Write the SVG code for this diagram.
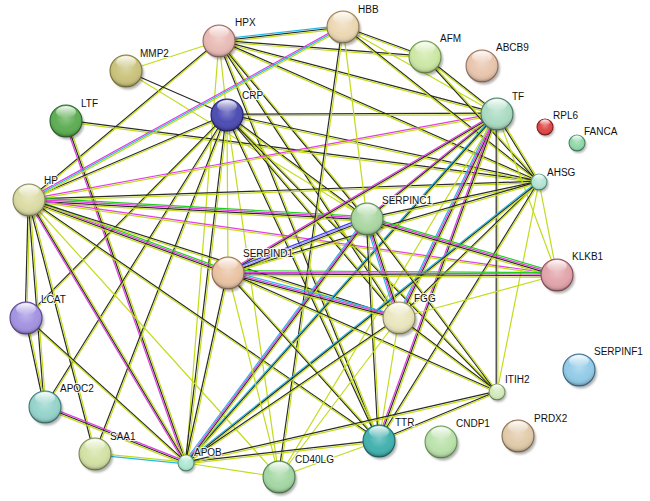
<svg xmlns="http://www.w3.org/2000/svg" width="650" height="501" viewBox="0 0 650 501">
<style>
#edges line{stroke-width:1.2;fill:none}
.y{stroke:#c3db1b}.k{stroke:#2a2a2a}.m{stroke:#e23ee2}.c{stroke:#27b8e6}.g{stroke:#1fcf1f}.b{stroke:#3b3bf5}.l{stroke:#9d9dff}
.sh{fill:#000;opacity:.3;filter:url(#blur)}
.od{fill:url(#shade)}
.hl{fill:url(#hlg)}
.n{stroke-width:1.1}
text{font-family:"Liberation Sans",Arial,sans-serif;font-size:10px;fill:#111;stroke:#fff;stroke-width:2.2px;stroke-opacity:.85;paint-order:stroke;stroke-linejoin:round}
</style>
<defs>
<filter id="blur" x="-50%" y="-50%" width="200%" height="200%"><feGaussianBlur stdDeviation="1.3"/></filter>
<radialGradient id="shade" cx="50%" cy="40%" r="60%"><stop offset="0" stop-color="#fff" stop-opacity=".3"/><stop offset=".55" stop-color="#fff" stop-opacity="0"/><stop offset=".85" stop-color="#000" stop-opacity=".08"/><stop offset="1" stop-color="#000" stop-opacity=".38"/></radialGradient>
<linearGradient id="hlg" x1="0" y1="0" x2="0" y2="1"><stop offset="0" stop-color="#fff" stop-opacity=".95"/><stop offset="1" stop-color="#fff" stop-opacity="0"/></linearGradient>
</defs>
<rect width="650" height="501" fill="#fff"/>
<g id="edges">
<line class="y" x1="219" y1="41" x2="126" y2="71"/>
<line class="c" x1="219" y1="39.4" x2="343" y2="25.4"/><line class="k" x1="219" y1="41" x2="343" y2="27"/><line class="y" x1="219" y1="42.6" x2="343" y2="28.6"/>
<line class="k" x1="219" y1="40.2" x2="425" y2="56.2"/><line class="y" x1="219" y1="41.8" x2="425" y2="57.8"/>
<line class="k" x1="219" y1="40.2" x2="497" y2="113.2"/><line class="y" x1="219" y1="41.8" x2="497" y2="114.8"/>
<line class="k" x1="219" y1="40.2" x2="539" y2="181.2"/><line class="y" x1="219" y1="41.8" x2="539" y2="182.8"/>
<line class="k" x1="219" y1="40.2" x2="29" y2="199.2"/><line class="y" x1="219" y1="41.8" x2="29" y2="200.8"/>
<line class="k" x1="218.2" y1="41" x2="366.2" y2="219"/><line class="y" x1="219.8" y1="41" x2="367.8" y2="219"/>
<line class="k" x1="218.2" y1="41" x2="398.2" y2="318"/><line class="y" x1="219.8" y1="41" x2="399.8" y2="318"/>
<line class="k" x1="218.2" y1="41" x2="378.2" y2="441"/><line class="y" x1="219.8" y1="41" x2="379.8" y2="441"/>
<line class="y" x1="219" y1="41" x2="186" y2="463"/>
<line class="y" x1="219" y1="41" x2="227" y2="115"/>
<line class="k" x1="126" y1="71" x2="227" y2="115"/>
<line class="y" x1="126" y1="71" x2="367" y2="219"/>
<line class="k" x1="66" y1="120.2" x2="539" y2="181.2"/><line class="y" x1="66" y1="121.8" x2="539" y2="182.8"/>
<line class="m" x1="64.4" y1="121" x2="184.4" y2="463"/><line class="k" x1="66" y1="121" x2="186" y2="463"/><line class="y" x1="67.6" y1="121" x2="187.6" y2="463"/>
<line class="k" x1="227" y1="114.2" x2="497" y2="113.2"/><line class="y" x1="227" y1="115.8" x2="497" y2="114.8"/>
<line class="k" x1="227" y1="114.2" x2="539" y2="181.2"/><line class="y" x1="227" y1="115.8" x2="539" y2="182.8"/>
<line class="k" x1="227" y1="114.2" x2="29" y2="199.2"/><line class="y" x1="227" y1="115.8" x2="29" y2="200.8"/>
<line class="k" x1="227" y1="114.2" x2="367" y2="218.2"/><line class="y" x1="227" y1="115.8" x2="367" y2="219.8"/>
<line class="k" x1="226.2" y1="115" x2="398.2" y2="318"/><line class="y" x1="227.8" y1="115" x2="399.8" y2="318"/>
<line class="k" x1="226.2" y1="115" x2="378.2" y2="441"/><line class="y" x1="227.8" y1="115" x2="379.8" y2="441"/>
<line class="k" x1="226.2" y1="115" x2="185.2" y2="463"/><line class="y" x1="227.8" y1="115" x2="186.8" y2="463"/>
<line class="k" x1="226.2" y1="115" x2="94.2" y2="454"/><line class="y" x1="227.8" y1="115" x2="95.8" y2="454"/>
<line class="k" x1="226.2" y1="115" x2="44.2" y2="407"/><line class="y" x1="227.8" y1="115" x2="45.8" y2="407"/>
<line class="k" x1="226.2" y1="115" x2="25.2" y2="318"/><line class="y" x1="227.8" y1="115" x2="26.8" y2="318"/>
<line class="y" x1="227" y1="115" x2="279" y2="477"/>
<line class="y" x1="227" y1="115" x2="228" y2="273"/>
<line class="k" x1="226.2" y1="115" x2="496.2" y2="392"/><line class="y" x1="227.8" y1="115" x2="497.8" y2="392"/>
<line class="m" x1="29" y1="198.4" x2="343" y2="25.4"/><line class="c" x1="29" y1="200" x2="343" y2="27"/><line class="y" x1="29" y1="201.6" x2="343" y2="28.6"/>
<line class="m" x1="29" y1="199.2" x2="497" y2="113.2"/><line class="y" x1="29" y1="200.8" x2="497" y2="114.8"/>
<line class="k" x1="29" y1="199.2" x2="539" y2="181.2"/><line class="y" x1="29" y1="200.8" x2="539" y2="182.8"/>
<line class="g" x1="29" y1="197.6" x2="367" y2="216.6"/><line class="m" x1="29" y1="199.2" x2="367" y2="218.2"/><line class="k" x1="29" y1="200.8" x2="367" y2="219.8"/><line class="y" x1="29" y1="202.4" x2="367" y2="221.4"/>
<line class="g" x1="29" y1="197.6" x2="228" y2="270.6"/><line class="m" x1="29" y1="199.2" x2="228" y2="272.2"/><line class="k" x1="29" y1="200.8" x2="228" y2="273.8"/><line class="y" x1="29" y1="202.4" x2="228" y2="275.4"/>
<line class="m" x1="29" y1="199.2" x2="557" y2="274.2"/><line class="y" x1="29" y1="200.8" x2="557" y2="275.8"/>
<line class="k" x1="29" y1="199.2" x2="399" y2="317.2"/><line class="y" x1="29" y1="200.8" x2="399" y2="318.8"/>
<line class="k" x1="28.2" y1="200" x2="25.2" y2="318"/><line class="y" x1="29.8" y1="200" x2="26.8" y2="318"/>
<line class="k" x1="28.2" y1="200" x2="44.2" y2="407"/><line class="y" x1="29.8" y1="200" x2="45.8" y2="407"/>
<line class="k" x1="28.2" y1="200" x2="94.2" y2="454"/><line class="y" x1="29.8" y1="200" x2="95.8" y2="454"/>
<line class="m" x1="27.4" y1="200" x2="184.4" y2="463"/><line class="k" x1="29" y1="200" x2="186" y2="463"/><line class="y" x1="30.6" y1="200" x2="187.6" y2="463"/>
<line class="k" x1="29" y1="199.2" x2="379" y2="440.2"/><line class="y" x1="29" y1="200.8" x2="379" y2="441.8"/>
<line class="y" x1="29" y1="200" x2="279" y2="477"/>
<line class="k" x1="343" y1="26.2" x2="425" y2="56.2"/><line class="y" x1="343" y1="27.8" x2="425" y2="57.8"/>
<line class="y" x1="343" y1="27" x2="497" y2="114"/>
<line class="y" x1="343" y1="27" x2="367" y2="219"/>
<line class="k" x1="342.2" y1="27" x2="278.2" y2="477"/><line class="y" x1="343.8" y1="27" x2="279.8" y2="477"/>
<line class="k" x1="343" y1="26.2" x2="539" y2="181.2"/><line class="y" x1="343" y1="27.8" x2="539" y2="182.8"/>
<line class="k" x1="425" y1="56.2" x2="497" y2="113.2"/><line class="y" x1="425" y1="57.8" x2="497" y2="114.8"/>
<line class="k" x1="424.2" y1="57" x2="538.2" y2="182"/><line class="y" x1="425.8" y1="57" x2="539.8" y2="182"/>
<line class="k" x1="496.2" y1="114" x2="538.2" y2="182"/><line class="y" x1="497.8" y1="114" x2="539.8" y2="182"/>
<line class="m" x1="497" y1="112.4" x2="367" y2="217.4"/><line class="k" x1="497" y1="114" x2="367" y2="219"/><line class="y" x1="497" y1="115.6" x2="367" y2="220.6"/>
<line class="m" x1="497" y1="112.4" x2="228" y2="271.4"/><line class="k" x1="497" y1="114" x2="228" y2="273"/><line class="y" x1="497" y1="115.6" x2="228" y2="274.6"/>
<line class="c" x1="494.6" y1="114" x2="396.6" y2="318"/><line class="m" x1="496.2" y1="114" x2="398.2" y2="318"/><line class="k" x1="497.8" y1="114" x2="399.8" y2="318"/><line class="y" x1="499.4" y1="114" x2="401.4" y2="318"/>
<line class="m" x1="495.4" y1="114" x2="377.4" y2="441"/><line class="k" x1="497" y1="114" x2="379" y2="441"/><line class="y" x1="498.6" y1="114" x2="380.6" y2="441"/>
<line class="c" x1="495.4" y1="114" x2="184.4" y2="463"/><line class="k" x1="497" y1="114" x2="186" y2="463"/><line class="y" x1="498.6" y1="114" x2="187.6" y2="463"/>
<line class="k" x1="496.2" y1="114" x2="496.2" y2="392"/><line class="y" x1="497.8" y1="114" x2="497.8" y2="392"/>
<line class="y" x1="497" y1="114" x2="557" y2="275"/>
<line class="y" x1="497" y1="114" x2="279" y2="477"/>
<line class="k" x1="539" y1="181.2" x2="367" y2="218.2"/><line class="y" x1="539" y1="182.8" x2="367" y2="219.8"/>
<line class="k" x1="539" y1="181.2" x2="228" y2="272.2"/><line class="y" x1="539" y1="182.8" x2="228" y2="273.8"/>
<line class="k" x1="539" y1="181.2" x2="399" y2="317.2"/><line class="y" x1="539" y1="182.8" x2="399" y2="318.8"/>
<line class="k" x1="538.2" y1="182" x2="378.2" y2="441"/><line class="y" x1="539.8" y1="182" x2="379.8" y2="441"/>
<line class="c" x1="539" y1="180.4" x2="186" y2="461.4"/><line class="k" x1="539" y1="182" x2="186" y2="463"/><line class="y" x1="539" y1="183.6" x2="186" y2="464.6"/>
<line class="y" x1="539" y1="182" x2="497" y2="392"/>
<line class="y" x1="539" y1="182" x2="557" y2="275"/>
<line class="b" x1="367" y1="216.6" x2="228" y2="270.6"/><line class="l" x1="367" y1="218.2" x2="228" y2="272.2"/><line class="k" x1="367" y1="219.8" x2="228" y2="273.8"/><line class="y" x1="367" y1="221.4" x2="228" y2="275.4"/>
<line class="g" x1="367" y1="216.6" x2="557" y2="272.6"/><line class="m" x1="367" y1="218.2" x2="557" y2="274.2"/><line class="k" x1="367" y1="219.8" x2="557" y2="275.8"/><line class="y" x1="367" y1="221.4" x2="557" y2="277.4"/>
<line class="c" x1="364.6" y1="219" x2="396.6" y2="318"/><line class="m" x1="366.2" y1="219" x2="398.2" y2="318"/><line class="k" x1="367.8" y1="219" x2="399.8" y2="318"/><line class="y" x1="369.4" y1="219" x2="401.4" y2="318"/>
<line class="k" x1="366.2" y1="219" x2="378.2" y2="441"/><line class="y" x1="367.8" y1="219" x2="379.8" y2="441"/>
<line class="c" x1="364.6" y1="219" x2="183.6" y2="463"/><line class="m" x1="366.2" y1="219" x2="185.2" y2="463"/><line class="k" x1="367.8" y1="219" x2="186.8" y2="463"/><line class="y" x1="369.4" y1="219" x2="188.4" y2="463"/>
<line class="k" x1="366.2" y1="219" x2="496.2" y2="392"/><line class="y" x1="367.8" y1="219" x2="497.8" y2="392"/>
<line class="g" x1="228" y1="270.6" x2="557" y2="272.6"/><line class="m" x1="228" y1="272.2" x2="557" y2="274.2"/><line class="k" x1="228" y1="273.8" x2="557" y2="275.8"/><line class="y" x1="228" y1="275.4" x2="557" y2="277.4"/>
<line class="c" x1="228" y1="270.6" x2="399" y2="315.6"/><line class="m" x1="228" y1="272.2" x2="399" y2="317.2"/><line class="k" x1="228" y1="273.8" x2="399" y2="318.8"/><line class="y" x1="228" y1="275.4" x2="399" y2="320.4"/>
<line class="k" x1="227.2" y1="273" x2="185.2" y2="463"/><line class="y" x1="228.8" y1="273" x2="186.8" y2="463"/>
<line class="k" x1="227.2" y1="273" x2="378.2" y2="441"/><line class="y" x1="228.8" y1="273" x2="379.8" y2="441"/>
<line class="y" x1="228" y1="273" x2="279" y2="477"/>
<line class="k" x1="228" y1="272.2" x2="497" y2="391.2"/><line class="y" x1="228" y1="273.8" x2="497" y2="392.8"/>
<line class="k" x1="399" y1="317.2" x2="497" y2="391.2"/><line class="y" x1="399" y1="318.8" x2="497" y2="392.8"/>
<line class="y" x1="399" y1="318" x2="379" y2="441"/>
<line class="k" x1="399" y1="317.2" x2="186" y2="462.2"/><line class="y" x1="399" y1="318.8" x2="186" y2="463.8"/>
<line class="y" x1="399" y1="318" x2="279" y2="477"/>
<line class="y" x1="399" y1="318" x2="557" y2="275"/>
<line class="k" x1="25.2" y1="318" x2="44.2" y2="407"/><line class="y" x1="26.8" y1="318" x2="45.8" y2="407"/>
<line class="k" x1="26" y1="317.2" x2="186" y2="462.2"/><line class="y" x1="26" y1="318.8" x2="186" y2="463.8"/>
<line class="m" x1="45" y1="405.4" x2="186" y2="461.4"/><line class="k" x1="45" y1="407" x2="186" y2="463"/><line class="y" x1="45" y1="408.6" x2="186" y2="464.6"/>
<line class="y" x1="95" y1="453.2" x2="186" y2="462.2"/><line class="c" x1="95" y1="454.8" x2="186" y2="463.8"/>
<line class="k" x1="186" y1="462.2" x2="379" y2="440.2"/><line class="y" x1="186" y1="463.8" x2="379" y2="441.8"/>
<line class="k" x1="186" y1="462.2" x2="497" y2="391.2"/><line class="y" x1="186" y1="463.8" x2="497" y2="392.8"/>
<line class="y" x1="186" y1="463" x2="279" y2="477"/>
<line class="y" x1="279" y1="477" x2="379" y2="441"/>
<line class="k" x1="379" y1="440.2" x2="497" y2="391.2"/><line class="y" x1="379" y1="441.8" x2="497" y2="392.8"/>
</g>
<g id="HPX"><circle class="sh" cx="221" cy="43.5" r="16"/><circle class="n" cx="219" cy="41" r="16" fill="#e9bcb6" stroke="#9e6a66"/><circle class="od" cx="219" cy="41" r="16"/><ellipse class="hl" cx="219" cy="32" rx="10" ry="6"/><text x="235" y="26">HPX</text></g>
<g id="MMP2"><circle class="sh" cx="128" cy="73.5" r="16"/><circle class="n" cx="126" cy="71" r="16" fill="#cbc47e" stroke="#857d3e"/><circle class="od" cx="126" cy="71" r="16"/><ellipse class="hl" cx="126" cy="62" rx="10" ry="6"/><text x="140" y="57">MMP2</text></g>
<g id="LTF"><circle class="sh" cx="68" cy="123.5" r="16"/><circle class="n" cx="66" cy="121" r="16" fill="#5fae55" stroke="#2c6a2c"/><circle class="od" cx="66" cy="121" r="16"/><ellipse class="hl" cx="66" cy="112" rx="10" ry="6"/><text x="81" y="107">LTF</text></g>
<g id="CRP"><circle class="sh" cx="229" cy="117.5" r="16"/><circle class="n" cx="227" cy="115" r="16" fill="#4e4eb4" stroke="#22226c"/><circle class="od" cx="227" cy="115" r="16"/><ellipse class="hl" cx="227" cy="106" rx="10" ry="6"/><text x="242" y="99">CRP</text></g>
<g id="HP"><circle class="sh" cx="31" cy="202.5" r="16"/><circle class="n" cx="29" cy="200" r="16" fill="#dcdca6" stroke="#8e8e5e"/><circle class="od" cx="29" cy="200" r="16"/><ellipse class="hl" cx="29" cy="191" rx="10" ry="6"/><text x="44" y="184">HP</text></g>
<g id="HBB"><circle class="sh" cx="345" cy="29.5" r="16"/><circle class="n" cx="343" cy="27" r="16" fill="#ecd8b4" stroke="#9a8052"/><circle class="od" cx="343" cy="27" r="16"/><ellipse class="hl" cx="343" cy="18" rx="10" ry="6"/><text x="358" y="13">HBB</text></g>
<g id="AFM"><circle class="sh" cx="427" cy="59.5" r="16"/><circle class="n" cx="425" cy="57" r="16" fill="#cde8a6" stroke="#6e9a4c"/><circle class="od" cx="425" cy="57" r="16"/><ellipse class="hl" cx="425" cy="48" rx="10" ry="6"/><text x="440" y="42">AFM</text></g>
<g id="ABCB9"><circle class="sh" cx="484" cy="68.5" r="16"/><circle class="n" cx="482" cy="66" r="16" fill="#e9c6ae" stroke="#9e7460"/><circle class="od" cx="482" cy="66" r="16"/><ellipse class="hl" cx="482" cy="57" rx="10" ry="6"/><text x="496" y="51">ABCB9</text></g>
<g id="TF"><circle class="sh" cx="499" cy="116.5" r="16"/><circle class="n" cx="497" cy="114" r="16" fill="#acdcc4" stroke="#4e8068"/><circle class="od" cx="497" cy="114" r="16"/><ellipse class="hl" cx="497" cy="105" rx="10" ry="6"/><text x="512" y="100">TF</text></g>
<g id="RPL6"><circle class="sh" cx="546.5" cy="129" r="8"/><circle class="n" cx="545" cy="127" r="8" fill="#e04848" stroke="#8e2020"/><circle class="od" cx="545" cy="127" r="8"/><ellipse class="hl" cx="545" cy="122.5" rx="5" ry="3"/><text x="553" y="119">RPL6</text></g>
<g id="FANCA"><circle class="sh" cx="578.5" cy="145" r="8"/><circle class="n" cx="577" cy="143" r="8" fill="#92d8aa" stroke="#4e8e68"/><circle class="od" cx="577" cy="143" r="8"/><ellipse class="hl" cx="577" cy="138.5" rx="5" ry="3"/><text x="584" y="135">FANCA</text></g>
<g id="AHSG"><circle class="sh" cx="540.5" cy="184" r="8"/><circle class="n" cx="539" cy="182" r="8" fill="#b4e4d4" stroke="#5e9a86"/><circle class="od" cx="539" cy="182" r="8"/><ellipse class="hl" cx="539" cy="177.5" rx="5" ry="3"/><text x="547" y="176">AHSG</text></g>
<g id="SERPINC1"><circle class="sh" cx="369" cy="221.5" r="16"/><circle class="n" cx="367" cy="219" r="16" fill="#acd8a4" stroke="#5e8e5c"/><circle class="od" cx="367" cy="219" r="16"/><ellipse class="hl" cx="367" cy="210" rx="10" ry="6"/><text x="382" y="204">SERPINC1</text></g>
<g id="SERPIND1"><circle class="sh" cx="230" cy="275.5" r="16"/><circle class="n" cx="228" cy="273" r="16" fill="#eac4a4" stroke="#9e7452"/><circle class="od" cx="228" cy="273" r="16"/><ellipse class="hl" cx="228" cy="264" rx="10" ry="6"/><text x="243" y="257">SERPIND1</text></g>
<g id="LCAT"><circle class="sh" cx="28" cy="320.5" r="16"/><circle class="n" cx="26" cy="318" r="16" fill="#a494e2" stroke="#5e4490"/><circle class="od" cx="26" cy="318" r="16"/><ellipse class="hl" cx="26" cy="309" rx="10" ry="6"/><text x="41" y="303">LCAT</text></g>
<g id="APOC2"><circle class="sh" cx="47" cy="409.5" r="16"/><circle class="n" cx="45" cy="407" r="16" fill="#96d4cc" stroke="#3e7e78"/><circle class="od" cx="45" cy="407" r="16"/><ellipse class="hl" cx="45" cy="398" rx="10" ry="6"/><text x="60" y="392">APOC2</text></g>
<g id="SAA1"><circle class="sh" cx="97" cy="456.5" r="16"/><circle class="n" cx="95" cy="454" r="16" fill="#d4e2a6" stroke="#7c8e52"/><circle class="od" cx="95" cy="454" r="16"/><ellipse class="hl" cx="95" cy="445" rx="10" ry="6"/><text x="110" y="440">SAA1</text></g>
<g id="APOB"><circle class="sh" cx="187.5" cy="465" r="8"/><circle class="n" cx="186" cy="463" r="8" fill="#ace8d2" stroke="#5e9e82"/><circle class="od" cx="186" cy="463" r="8"/><ellipse class="hl" cx="186" cy="458.5" rx="5" ry="3"/><text x="194" y="456">APOB</text></g>
<g id="CD40LG"><circle class="sh" cx="281" cy="479.5" r="16"/><circle class="n" cx="279" cy="477" r="16" fill="#a6d8a6" stroke="#4e8450"/><circle class="od" cx="279" cy="477" r="16"/><ellipse class="hl" cx="279" cy="468" rx="10" ry="6"/><text x="295" y="463">CD40LG</text></g>
<g id="KLKB1"><circle class="sh" cx="559" cy="277.5" r="16"/><circle class="n" cx="557" cy="275" r="16" fill="#e2a6ac" stroke="#8e4e5a"/><circle class="od" cx="557" cy="275" r="16"/><ellipse class="hl" cx="557" cy="266" rx="10" ry="6"/><text x="572" y="260">KLKB1</text></g>
<g id="FGG"><circle class="sh" cx="401" cy="320.5" r="16"/><circle class="n" cx="399" cy="318" r="16" fill="#eae6be" stroke="#948c5e"/><circle class="od" cx="399" cy="318" r="16"/><ellipse class="hl" cx="399" cy="309" rx="10" ry="6"/><text x="414" y="302">FGG</text></g>
<g id="ITIH2"><circle class="sh" cx="498.5" cy="394" r="8"/><circle class="n" cx="497" cy="392" r="8" fill="#d4eabc" stroke="#7c9e6c"/><circle class="od" cx="497" cy="392" r="8"/><ellipse class="hl" cx="497" cy="387.5" rx="5" ry="3"/><text x="505" y="383">ITIH2</text></g>
<g id="SERPINF1"><circle class="sh" cx="581" cy="372.5" r="16"/><circle class="n" cx="579" cy="370" r="16" fill="#94cce8" stroke="#3e6e8e"/><circle class="od" cx="579" cy="370" r="16"/><ellipse class="hl" cx="579" cy="361" rx="10" ry="6"/><text x="594" y="355">SERPINF1</text></g>
<g id="TTR"><circle class="sh" cx="381" cy="443.5" r="16"/><circle class="n" cx="379" cy="441" r="16" fill="#44b2b0" stroke="#1e6c6c"/><circle class="od" cx="379" cy="441" r="16"/><ellipse class="hl" cx="379" cy="432" rx="10" ry="6"/><text x="395" y="426">TTR</text></g>
<g id="CNDP1"><circle class="sh" cx="443" cy="444.5" r="16"/><circle class="n" cx="441" cy="442" r="16" fill="#bce2ac" stroke="#6c9c5e"/><circle class="od" cx="441" cy="442" r="16"/><ellipse class="hl" cx="441" cy="433" rx="10" ry="6"/><text x="456" y="427">CNDP1</text></g>
<g id="PRDX2"><circle class="sh" cx="520" cy="438.5" r="16"/><circle class="n" cx="518" cy="436" r="16" fill="#e2ccac" stroke="#8e7050"/><circle class="od" cx="518" cy="436" r="16"/><ellipse class="hl" cx="518" cy="427" rx="10" ry="6"/><text x="534" y="422">PRDX2</text></g>
</svg>
